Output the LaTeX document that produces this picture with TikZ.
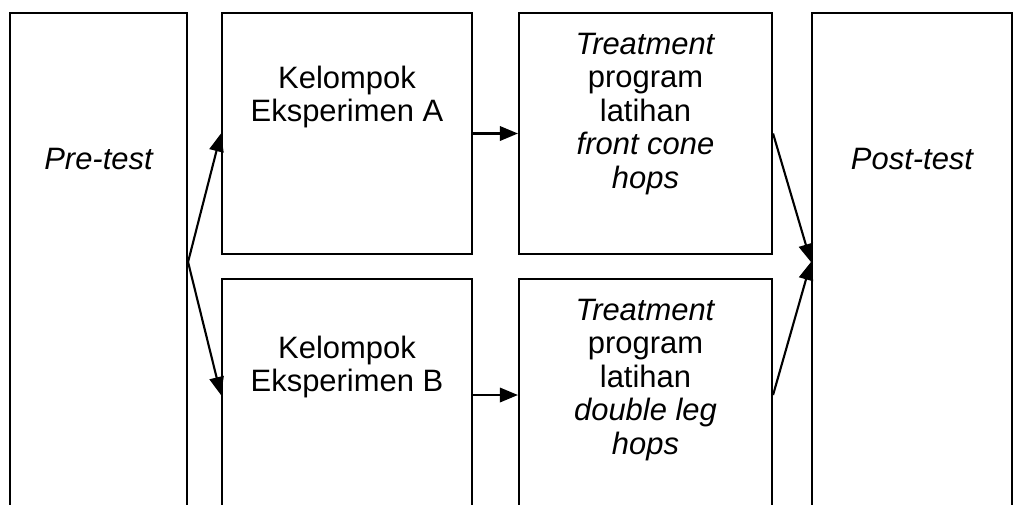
\documentclass[tikz,border=0pt]{standalone}
\usepackage{fontspec}
\setmainfont{Liberation Sans}
\usetikzlibrary{arrows.meta}

\tikzset{
  box/.style={draw,line width=1.5pt,inner sep=0pt},
  txt/.style={inner sep=0pt,align=center,font=\fontsize{22}{23.8}\selectfont},
}

\begin{document}
\begin{tikzpicture}[line width=1.5pt,>={Triangle[length=0.45cm,width=0.36cm]}]
\path [use as bounding box,clip] (0,0) rectangle (25.6,-12.6);
\path
    (2.4625,-6.55) node [box,minimum width=4.425cm,minimum height=12.45cm] (pre) {}
    (8.675,-3.3375) node [box,minimum width=6.25cm,minimum height=6.025cm] (ka) {}
    (8.675,-9.875) node [box,minimum width=6.25cm,minimum height=5.8cm] (kb) {}
    (16.1375,-3.3375) node [box,minimum width=6.325cm,minimum height=6.025cm] (ta) {}
    (16.1375,-9.875) node [box,minimum width=6.325cm,minimum height=5.8cm] (tb) {}
    (22.8,-6.55) node [box,minimum width=5cm,minimum height=12.45cm] (post) {};
% box texts
\path (pre.north) +(0,-3.675) node [txt] (pret) {\itshape Pre-test};
\path (post.north) +(0,-3.675) node [txt] (postt) {\itshape Post-test};
\path (ka.north) +(0,-1.325) node [txt,anchor=north] (kat) {Kelompok\\Eksperimen A};
\path (kb.north) +(0,-1.425) node [txt,anchor=north] (kbt) {Kelompok\\Eksperimen B};
\path (ta.north) +(0,-0.5) node [txt,anchor=north] (tat)
    {\textit{Treatment}\\program\\latihan\\\textit{front cone}\\\textit{hops}};
\path (tb.north) +(0,-0.5) node [txt,anchor=north] (tbt)
    {\textit{Treatment}\\program\\latihan\\\textit{double leg}\\\textit{hops}};
% arrows
\draw (pre.east) [->] -- (ka.west);
\draw (pre.east) [->] -- (kb.west);
\draw (ka.east) [->] -- (ta.west);
\draw (kb.east) [->] -- (tb.west);
\draw (ta.east) [->] -- (post.west);
\draw (tb.east) [->] -- (post.west);
\end{tikzpicture}
\end{document}
